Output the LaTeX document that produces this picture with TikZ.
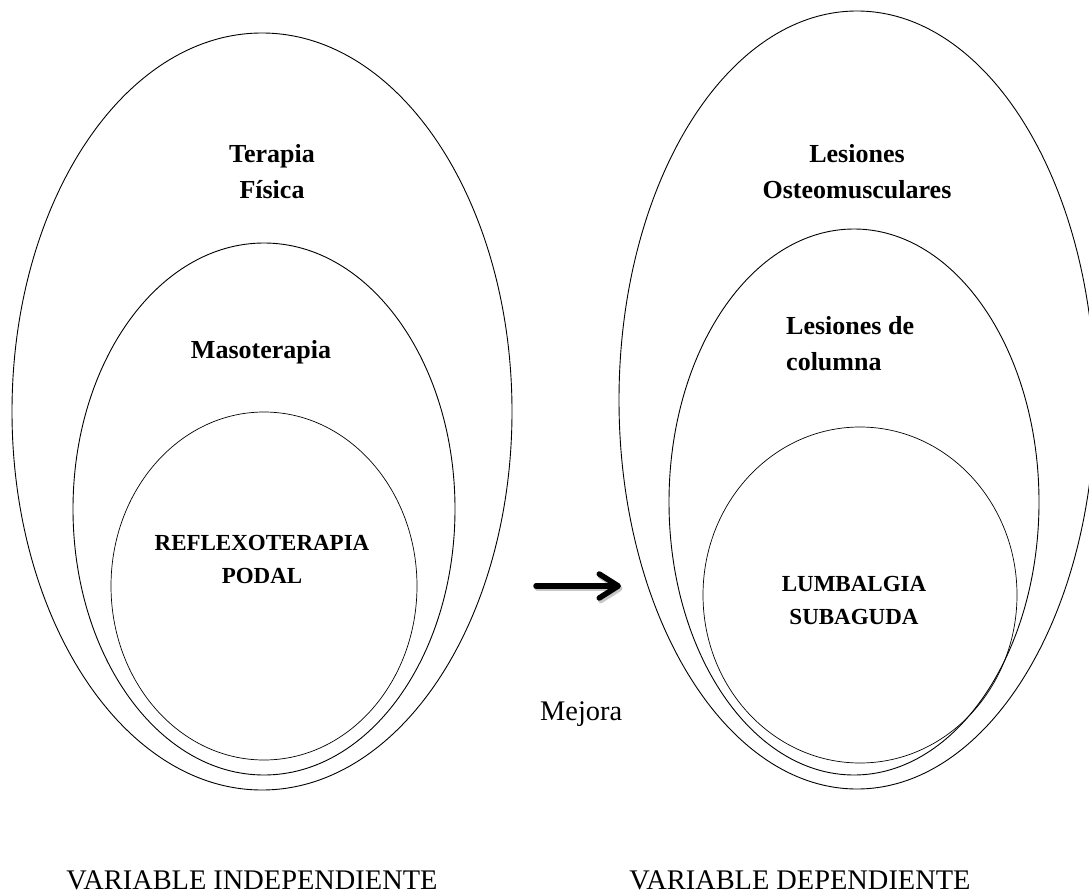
\documentclass[tikz,border=0pt]{standalone}
\usepackage{fontspec}
\setmainfont{Liberation Serif}
\usetikzlibrary{arrows.meta}
\begin{document}
\begin{tikzpicture}[x=1pt,y=-1pt,
  ring/.style={draw=black,line width=0.9pt},
  ringin/.style={draw=black,line width=0.7pt},
  biglabel/.style={font=\bfseries\fontsize{26}{36}\selectfont,inner sep=0pt,align=center},
  smalllabel/.style={font=\bfseries\fontsize{23}{32.5}\selectfont,inner sep=0pt,align=center},
  varlabel/.style={font=\fontsize{28.4}{32}\selectfont,inner sep=0pt},
  arrowline/.style={line width=5.5pt,line cap=round,-{Straight Barb[length=19pt,width=24pt,round]}}]
\useasboundingbox (0,0) rectangle (1089,896);
% left ellipses
\draw[ring] (262,411.5) ellipse [x radius=250, y radius=378.5];
\draw[ring] (264,509) ellipse [x radius=191, y radius=266];
\draw[ringin] (264,586) ellipse [x radius=153, y radius=174];
% right ellipses
\draw[ring] (857,400) ellipse [x radius=238, y radius=389];
\draw[ring] (854,502) ellipse [x radius=185, y radius=273];
\draw[ringin] (860,595) ellipse [x radius=157, y radius=168];
% labels
\node[biglabel,anchor=base] (tf) at (272,199) {Terapia\\Física};
\node[biglabel,anchor=base] (mas) at (261,358) {Masoterapia};
\node[smalllabel,anchor=base] (ref) at (262,583) {REFLEXOTERAPIA\\PODAL};
\node[biglabel,anchor=base] (les) at (857,199) {Lesiones\\Osteomusculares};
\node[biglabel,anchor=base west,align=left] (col) at (786,370) {Lesiones de\\columna};
\node[smalllabel,anchor=base] (lum) at (854,624) {LUMBALGIA\\SUBAGUDA};
\node[varlabel,anchor=base west] (mej) at (540,720) {Mejora};
\node[varlabel,anchor=base] (vi) at (252,889) {VARIABLE INDEPENDIENTE};
\node[varlabel,anchor=base] (vd) at (800,889) {VARIABLE DEPENDIENTE};
% arrow
\coordinate (a1) at (536,586);
\coordinate (a2) at (621,586);
\draw[arrowline,black!22,transform canvas={shift={(1.5pt,-2.5pt)}}] (a1) -- (a2);
\draw[arrowline] (a1) -- (a2);
\end{tikzpicture}
\end{document}
